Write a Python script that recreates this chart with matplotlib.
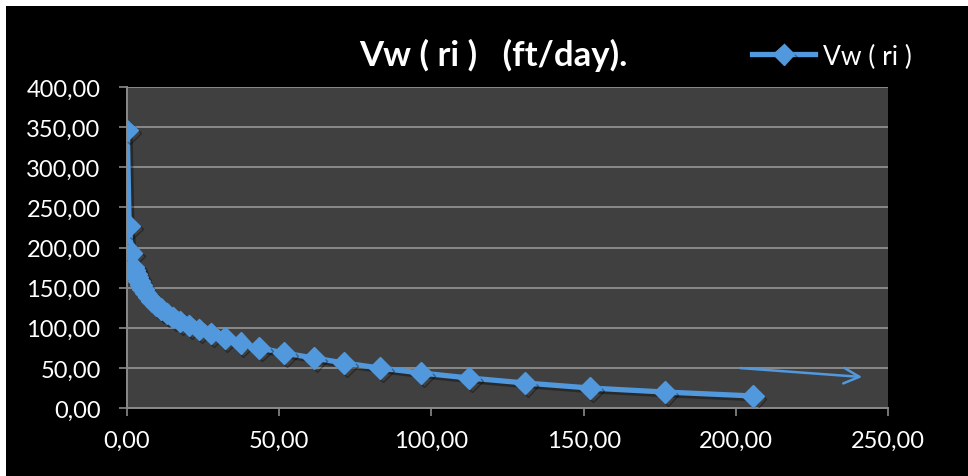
import matplotlib.pyplot as plt
import matplotlib.patheffects as pe
from matplotlib.patches import Rectangle
from matplotlib.ticker import FuncFormatter

# radius (ft) and water velocity Vw(ri) (ft/day)
r_ft = [0.1, 0.7, 1.5, 2.1, 2.5, 2.9, 3.3, 3.9, 4.5, 5.2, 6.1, 7.1, 8.2, 9.6,
        11.1, 13.0, 15.1, 17.5, 20.4, 23.7, 27.6, 32.1, 37.3, 43.4, 51.6,
        61.4, 71.3, 83.1, 96.6, 112.4, 130.7, 152.1, 176.7, 205.6]
vw = [346.0, 227.0, 193.0, 176.0, 172.0, 167.0, 163.0, 158.0, 153.0, 148.0,
      143.0, 138.0, 133.0, 128.0, 123.0, 118.0, 113.0, 108.0, 103.0, 98.0,
      93.0, 87.0, 81.0, 75.0, 68.5, 62.3, 56.1, 49.8, 43.6, 37.4, 31.2,
      24.9, 19.9, 15.0]
x_ticks = [0, 50, 100, 150, 200, 250]
y_ticks = [0, 50, 100, 150, 200, 250, 300, 350, 400]
arrow_start = (201.4, 49.8)
arrow_end = (241.5, 38.6)

blue = '#5198dc'
grid_col = '#8a8a8a'
font = 'Lato'

fig = plt.figure(figsize=(9.68, 4.77), dpi=100, facecolor='white')
fig.patches.append(Rectangle((6 / 968, 0), 1, 1 - 7 / 477, transform=fig.transFigure,
                             facecolor='black', edgecolor='none', zorder=-5))

ax = fig.add_axes([127 / 968, 1 - 409 / 477, 761 / 968, 321 / 477])
ax.set_facecolor('#404040')

ax.plot(r_ft, vw, color=blue, lw=3.8, marker='D', markersize=11,
        markeredgecolor=blue, label='Vw ( ri )', zorder=3,
        path_effects=[pe.SimpleLineShadow(offset=(2, -2), alpha=0.35, shadow_color='black'),
                      pe.Normal()])

ax.annotate('', xy=arrow_end, xytext=arrow_start,
            arrowprops=dict(arrowstyle='->', color=blue, lw=1.8, mutation_scale=28,
                            shrinkA=0, shrinkB=0), zorder=4)

ax.set_xlim(0, 250)
ax.set_ylim(0, 400)
ax.set_xticks(x_ticks)
ax.set_yticks(y_ticks)
fmt = FuncFormatter(lambda v, p: f'{v:.2f}'.replace('.', ','))
ax.xaxis.set_major_formatter(fmt)
ax.yaxis.set_major_formatter(fmt)

ax.grid(axis='y', color=grid_col, lw=1.4, zorder=1)
ax.set_axisbelow(True)
for s in ['top', 'right']:
    ax.spines[s].set_visible(False)
for s in ['left', 'bottom']:
    ax.spines[s].set_color(grid_col)
    ax.spines[s].set_linewidth(1.4)
ax.tick_params(axis='both', direction='out', length=6, width=1.2, color=grid_col,
               labelcolor='white', labelsize=17)
ax.tick_params(axis='y', pad=13)
ax.tick_params(axis='x', pad=10)
for lbl in ax.get_xticklabels() + ax.get_yticklabels():
    lbl.set_fontfamily(font)

fig.text(493 / 968, 1 - 55 / 477, 'Vw ( ri )   (ft/day).', color='white',
         fontsize=25, fontweight='bold', fontfamily=font, ha='center', va='center')

leg = fig.legend(loc='center left', bbox_to_anchor=(752 / 968, 1 - 57 / 477),
                 frameon=False, borderpad=0, borderaxespad=0,
                 handlelength=2.4, handletextpad=0.3,
                 prop={'family': font, 'size': 19})
for t in leg.get_texts():
    t.set_color('white')

fig.savefig('out.png', dpi=100, facecolor=fig.get_facecolor())
